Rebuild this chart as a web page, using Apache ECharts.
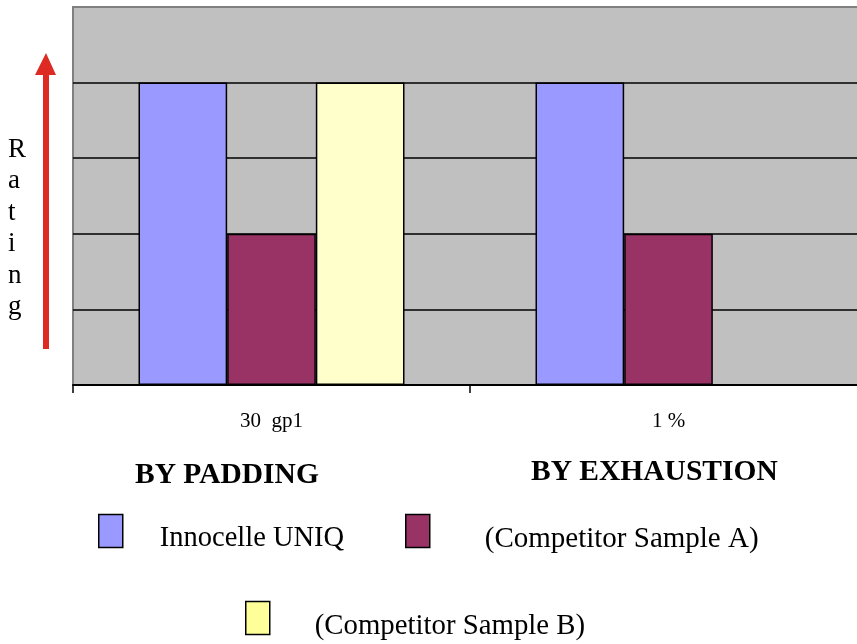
<!DOCTYPE html>
<html><head><meta charset="utf-8">
<script src="https://cdn.jsdelivr.net/npm/echarts@6/dist/echarts.min.js"></script>
<style>html,body{margin:0;padding:0;background:#fff}#c{width:857px;height:644px}</style>
</head><body><div id="c"></div>
<script>
const categories = ['30  gp1', '1 %'];
const groupTitles = ['BY PADDING', 'BY EXHAUSTION'];
const seriesNames = ['Innocelle UNIQ', '(Competitor Sample A)', '(Competitor Sample B)'];
const innocelle = [4, 4];
const sampleA = [2, 2];
const sampleB = [4, null];
const colors = ['#9999FF', '#993366', '#FFFFCC'];
const serif = '"Liberation Serif", "DejaVu Serif", serif';

const chart = echarts.init(document.getElementById('c'));
function legendFor(i, left, top, pad, fs, swatch) {
  return {
    left: left, top: top, padding: 0, orient: 'horizontal', itemWidth: 24, itemHeight: 33,
    selectedMode: false, icon: 'rect',
    data: [{ name: seriesNames[i], itemStyle: { color: swatch, borderColor: '#000', borderWidth: 1.5 } }],
    formatter: name => '{s| }\n{t|' + name + '}',
    textStyle: {
      fontFamily: serif, fontSize: fs, color: '#000', padding: [0, 0, 0, pad],
      rich: {
        s: { fontSize: 4, lineHeight: 16 },
        t: { fontFamily: serif, fontSize: fs, color: '#000', lineHeight: 32 }
      }
    }
  };
}
const vals = [innocelle, sampleA, sampleB];
chart.setOption({
  animation: false,
  grid: { left: 73, top: 7, width: 794, bottom: 259, outerBoundsMode: 'none', containLabel: false, show: true, backgroundColor: '#C0C0C0', borderColor: '#808080', borderWidth: 2 },
  xAxis: {
    type: 'category', data: categories,
    axisLine: { lineStyle: { color: '#000', width: 2 } },
    axisTick: { show: true, length: 8, lineStyle: { color: '#000', width: 1.5 } },
    axisLabel: { margin: 26, fontFamily: serif, fontSize: 21, color: '#000' }
  },
  yAxis: {
    type: 'value', min: 0, max: 5, interval: 1,
    axisLine: { show: false }, axisTick: { show: false }, axisLabel: { show: false },
    splitLine: { show: true, showMinLine: false, showMaxLine: false, lineStyle: { color: '#000', width: 1.5 } }
  },
  legend: [
    legendFor(0, 98, 513, 32, 28.5, colors[0]),
    legendFor(1, 405, 513, 50, 29, colors[1]),
    legendFor(2, 245, 600, 40, 28.8, '#FFFF99')
  ],
  series: vals.map((v, i) => ({
    name: seriesNames[i], type: 'bar', data: v, barGap: '0%', barCategoryGap: '33%',
    itemStyle: { color: colors[i], borderColor: '#000', borderWidth: 1.5 }
  })),
  graphic: [
    { type: 'text', left: 135, top: 460, style: { text: groupTitles[0], font: 'bold 29.5px ' + serif, fill: '#000' } },
    { type: 'text', left: 531, top: 457, style: { text: groupTitles[1], font: 'bold 29.5px ' + serif, fill: '#000' } },
    { type: 'text', left: 8, top: 134, style: { text: 'R\na\nt\ni\nn\ng', font: '27px ' + serif, fill: '#000', lineHeight: 31.5, align: 'center' } },
    { type: 'rect', shape: { x: 43, y: 70, width: 6, height: 279 }, style: { fill: '#DD2A22' } },
    { type: 'polygon', shape: { points: [[46, 53], [35, 75], [56, 75]] }, style: { fill: '#DD2A22' } }
  ]
});
</script></body></html>
